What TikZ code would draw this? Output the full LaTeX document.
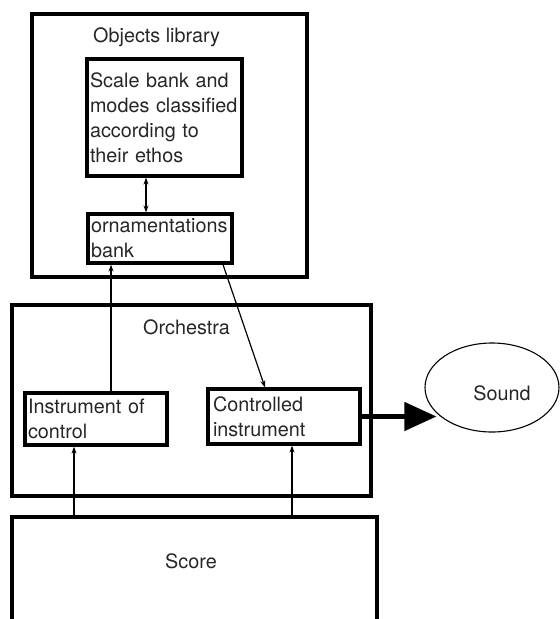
\documentclass[tikz,border=0pt]{standalone}
\usepackage{fontspec}
\setmainfont{TeX Gyre Heros}
\usepackage{tikz}
\usetikzlibrary{arrows.meta,shapes}

\begin{document}
\begin{tikzpicture}[x=1pt,y=-1pt]
                \tikzstyle{every node}+=[font=\fontsize{19.8}{25}\selectfont, text=black!85]
                \tikzstyle{box}=[draw=black, line width=3.2pt, rectangle, inner xsep=3pt, inner ysep=0pt, align=left]
                \tikzstyle{link}=[black, line width=1.2pt, -{Stealth[length=7pt,width=5pt]}]
                \useasboundingbox (0,0) rectangle (560,619);
                \node [box, minimum width=275pt, minimum height=263pt] (lib) at (169.5,145.5) {};
                \node [anchor=base west, inner sep=0pt] (libname) at (93,42) {Objects library};
                \node [box, text width=149pt, minimum height=117pt] (scale) at (164.5,117.5) {Scale bank and\\modes classified\\according to\\their ethos};
                \node [box, text width=138pt, minimum height=49pt] (orn) at (160,238.5) {ornamentations\\bank};
                \node [box, minimum width=359pt, minimum height=191pt] (orch) at (191.5,400.5) {};
                \node [anchor=base west, inner sep=0pt] (orchname) at (143,334) {Orchestra};
                \node [box, text width=136pt, minimum height=52pt] (ctrl) at (96,419) {Instrument of\\control};
                \node [box, inner xsep=5pt, text width=142pt, minimum height=55pt] (inst) at (284,416.5) {Controlled\\instrument};
                \node [box, minimum width=365pt, minimum height=105pt] (score) at (194.5,569.5) {};
                \node [inner sep=0pt] (scorename) at (191,561) {Score};
                \node [draw=black, ellipse, line width=1.1pt, minimum width=134pt, minimum height=89pt, text height=25pt, text depth=0pt] (sound) at (492,387.5) {\hspace*{20pt}Sound};
                \draw [{Stealth[length=7pt,width=5pt]}-{Stealth[length=7pt,width=5pt]}, black, line width=1.2pt] ([xshift=-18.5pt]scale.south) -- ([xshift=-18.5pt]scale.south |- orn.north);
                \draw [link] ([xshift=15pt]ctrl.north) -- ([xshift=15pt]ctrl.north |- orn.south);
                \draw [link] ([xshift=63pt]orn.south) -- ([xshift=-19pt]inst.north);
                \draw [link] ([xshift=-22pt]ctrl.south |- score.north) -- ([xshift=-22pt]ctrl.south);
                \draw [link] ([xshift=8pt]inst.south |- score.north) -- ([xshift=8pt]inst.south);
                \draw [black, line width=4.5pt, -{Triangle[length=32pt,width=28pt]}, shorten >=-12pt] (inst.east) -- (inst.east -| sound.west);
\end{tikzpicture}
\end{document}
